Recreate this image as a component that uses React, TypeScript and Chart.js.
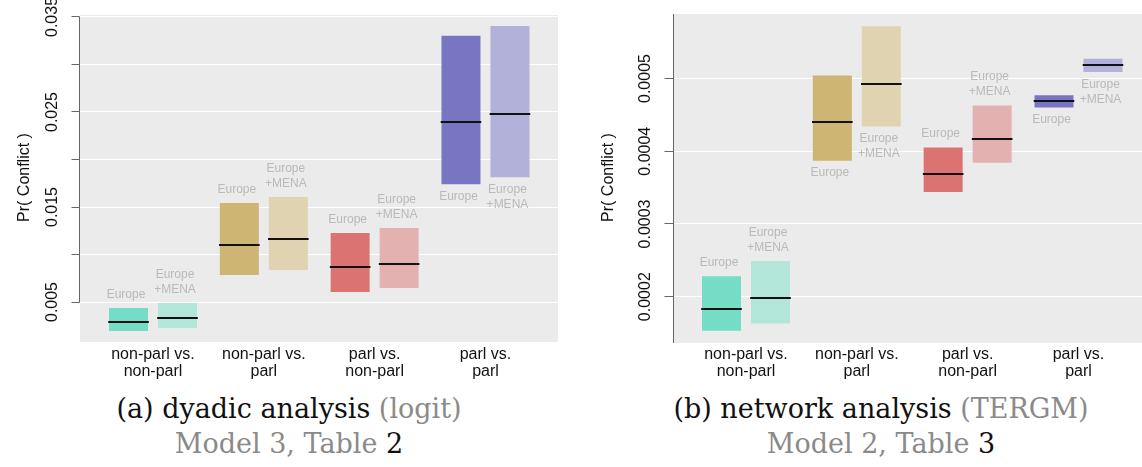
import React, { useEffect, useRef } from "react";
import { Chart, registerables } from "chart.js";

Chart.register(...registerables);

// ---- data ---------------------------------------------------------------

const categories: string[][] = [
  ["non-parl vs.", "non-parl"],
  ["non-parl vs.", "parl"],
  ["parl vs.", "non-parl"],
  ["parl vs.", "parl"],
];

const europeLabel = ["Europe"];
const menaLabel = ["Europe", "+MENA"];

// (a) dyadic analysis, logit: interval bounds and medians
const dyadicEuropeLow = [0.00195, 0.00784, 0.00605, 0.01739];
const dyadicEuropeHigh = [0.00437, 0.01542, 0.01226, 0.03303];
const dyadicEuropeMedian = [0.00293, 0.0110, 0.00865, 0.02398];
const dyadicMenaLow = [0.00226, 0.00837, 0.00647, 0.01813];
const dyadicMenaHigh = [0.00489, 0.01605, 0.01279, 0.03405];
const dyadicMenaMedian = [0.00328, 0.01163, 0.00903, 0.02482];
const dyadicTickLabels = ["0.005", "0.015", "0.025", "0.035"];

// (b) network analysis, TERGM: interval bounds and medians
const networkEuropeLow = [0.000153, 0.000387, 0.000344, 0.00046];
const networkEuropeHigh = [0.000228, 0.000504, 0.000405, 0.000477];
const networkEuropeMedian = [0.000183, 0.00044, 0.000369, 0.000469];
const networkMenaLow = [0.000163, 0.000434, 0.000384, 0.000509];
const networkMenaHigh = [0.000249, 0.000572, 0.000463, 0.000527];
const networkMenaMedian = [0.000198, 0.000493, 0.000417, 0.000518];
const networkTickLabels = ["0.0002", "0.0003", "0.0004", "0.0005"];

// ---- styling ------------------------------------------------------------

const europeColors = ["#75ddc5", "#cfb573", "#dc7373", "#7876c3"];
const menaColors = ["#b2e6d9", "#dfd3b1", "#e4b1b1", "#b1b1d9"];

const SANS = '"Liberation Sans", Arial, Helvetica, sans-serif';
const SERIF = '"DejaVu Serif", serif';
const PANEL_BG = "#ebebeb";
const AXIS_COLOR = "#666";
const GROUP_LABEL_COLOR = "#b9b9b9";
const CAPTION_GREY = "#8a8a8a";

type Side = "above" | "below";

interface PanelSpec {
  left: number;
  width: number;
  height: number;
  yAxisWidth: number;
  padTop: number;
  padRight: number;
  xAxisHeight: number;
  xTickPadding: number;
  yMin: number;
  yMax: number;
  yStep: number;
  xMin: number;
  xMax: number;
  tickLabels: string[];
  tickLen: number;
  tickLabelOffset: number;
  titleOffset: number;
  axisLineFull: boolean;
  sides: Side[];
  europe: { low: number[]; high: number[]; median: number[] };
  mena: { low: number[]; high: number[]; median: number[] };
}

const dyadicPanel: PanelSpec = {
  left: 0,
  width: 570,
  height: 390,
  yAxisWidth: 80,
  padTop: 15,
  padRight: 12,
  xAxisHeight: 48,
  xTickPadding: 4,
  yMin: 0.00079,
  yMax: 0.03521,
  yStep: 0.005,
  xMin: -0.6587,
  xMax: 3.6545,
  tickLabels: dyadicTickLabels,
  tickLen: 8,
  tickLabelOffset: 27,
  titleOffset: 55,
  axisLineFull: false,
  sides: ["above", "above", "above", "below"],
  europe: { low: dyadicEuropeLow, high: dyadicEuropeHigh, median: dyadicEuropeMedian },
  mena: { low: dyadicMenaLow, high: dyadicMenaHigh, median: dyadicMenaMedian },
};

const networkPanel: PanelSpec = {
  left: 580,
  width: 562,
  height: 390,
  yAxisWidth: 94,
  padTop: 14,
  padRight: 0,
  xAxisHeight: 47,
  xTickPadding: 3,
  yMin: 0.0001363,
  yMax: 0.0005887,
  yStep: 0.0001,
  xMin: -0.6496,
  xMax: 3.573,
  tickLabels: networkTickLabels,
  tickLen: 9,
  tickLabelOffset: 28,
  titleOffset: 65,
  axisLineFull: true,
  sides: ["above", "below", "above", "below"],
  europe: { low: networkEuropeLow, high: networkEuropeHigh, median: networkEuropeMedian },
  mena: { low: networkMenaLow, high: networkMenaHigh, median: networkMenaMedian },
};

// ---- plugin: panel background, medians, R-style axis and group labels ---

const crisp = (v: number) => Math.round(v - 0.5) + 0.5;

const panelDecor = {
  id: "panelDecor",
  beforeDraw(chart: any) {
    const { ctx, chartArea: a } = chart;
    ctx.save();
    ctx.fillStyle = PANEL_BG;
    ctx.fillRect(a.left, a.top, a.right - a.left, a.bottom - a.top);
    ctx.restore();
  },
  afterDatasetsDraw(chart: any) {
    const { ctx } = chart;
    const yScale = chart.scales.y;
    ctx.save();
    ctx.strokeStyle = "#111";
    ctx.lineWidth = 2;
    chart.data.datasets.forEach((ds: any, di: number) => {
      const meta = chart.getDatasetMeta(di);
      meta.data.forEach((bar: any, i: number) => {
        const { x, width } = bar.getProps(["x", "width"], true);
        const py = Math.round(yScale.getPixelForValue(ds.medians[i]));
        ctx.beginPath();
        ctx.moveTo(x - width / 2 - 0.8, py);
        ctx.lineTo(x + width / 2 + 0.8, py);
        ctx.stroke();
      });
    });
    ctx.restore();
  },
  afterDraw(chart: any, _args: any, opts: any) {
    const { ctx, chartArea: a } = chart;
    const yScale = chart.scales.y;
    const axisX = a.left - 0.5;
    ctx.save();

    // axis line and tick marks
    const tickPixels = yScale.ticks.map((t: any) => crisp(yScale.getPixelForValue(t.value)));
    ctx.strokeStyle = AXIS_COLOR;
    ctx.lineWidth = 1;
    ctx.beginPath();
    if (opts.axisLineFull) {
      ctx.moveTo(axisX, a.top);
      ctx.lineTo(axisX, a.bottom);
    } else {
      ctx.moveTo(axisX, Math.min(...tickPixels));
      ctx.lineTo(axisX, Math.max(...tickPixels));
    }
    for (const py of tickPixels) {
      ctx.moveTo(axisX - opts.tickLen, py);
      ctx.lineTo(axisX, py);
    }
    ctx.stroke();

    // rotated tick labels and axis title
    ctx.fillStyle = "#111";
    ctx.textAlign = "center";
    ctx.textBaseline = "middle";
    ctx.font = `16px ${SANS}`;
    for (const lab of opts.tickLabels as string[]) {
      const py = yScale.getPixelForValue(Number(lab));
      ctx.save();
      ctx.translate(a.left - opts.tickLabelOffset, py);
      ctx.rotate(-Math.PI / 2);
      ctx.fillText(lab, 0, 0);
      ctx.restore();
    }
    ctx.save();
    ctx.translate(a.left - opts.titleOffset, (a.top + a.bottom) / 2 - 1);
    ctx.rotate(-Math.PI / 2);
    ctx.fillText("Pr( Conflict )", 0, 0);
    ctx.restore();

    // group labels next to each interval
    ctx.fillStyle = GROUP_LABEL_COLOR;
    ctx.font = `12px ${SANS}`;
    const lineGap = 15;
    chart.data.datasets.forEach((ds: any, di: number) => {
      const meta = chart.getDatasetMeta(di);
      meta.data.forEach((bar: any, i: number) => {
        const { x } = bar.getProps(["x"], true);
        const [lo, hi] = ds.data[i].y;
        const lines: string[] = ds.groupLabel;
        const tx = x - 2.5;
        if (ds.labelSides[i] === "above") {
          const top = yScale.getPixelForValue(hi);
          lines.forEach((ln, k) => {
            ctx.fillText(ln, tx, top - 13.5 - (lines.length - 1 - k) * lineGap);
          });
        } else {
          const bottom = yScale.getPixelForValue(lo);
          lines.forEach((ln, k) => {
            ctx.fillText(ln, tx, bottom + 12.5 + k * lineGap);
          });
        }
      });
    });
    ctx.restore();
  },
};

// ---- chart component ----------------------------------------------------

function IntervalPanel({ spec }: { spec: PanelSpec }) {
  const ref = useRef<HTMLCanvasElement | null>(null);

  useEffect(() => {
    if (!ref.current) return;
    const makeSet = (
      label: string,
      s: { low: number[]; high: number[]; median: number[] },
      colors: string[],
      groupLabel: string[]
    ) => ({
      label,
      data: categories.map((_, i) => ({ x: i, y: [s.low[i], s.high[i]] })),
      backgroundColor: colors,
      borderWidth: 0,
      categoryPercentage: 0.884,
      barPercentage: 0.796,
      medians: s.median,
      groupLabel,
      labelSides: spec.sides,
    });

    const chart = new Chart(ref.current, {
      type: "bar",
      data: {
        datasets: [
          makeSet("Europe", spec.europe, europeColors, europeLabel),
          makeSet("Europe +MENA", spec.mena, menaColors, menaLabel),
        ] as any,
      },
      options: {
        animation: false,
        responsive: false,
        events: [],
        layout: { padding: { left: 0, right: spec.padRight, top: spec.padTop, bottom: 0 } },
        plugins: {
          legend: { display: false },
          tooltip: { enabled: false },
          panelDecor: {
            tickLabels: spec.tickLabels,
            tickLen: spec.tickLen,
            tickLabelOffset: spec.tickLabelOffset,
            titleOffset: spec.titleOffset,
            axisLineFull: spec.axisLineFull,
          },
        } as any,
        scales: {
          x: {
            type: "linear",
            offset: false,
            min: spec.xMin,
            max: spec.xMax,
            grid: { display: false, drawTicks: false, offset: false },
            border: { display: false },
            afterBuildTicks: (scale: any) => {
              scale.ticks = categories.map((_, i) => ({ value: i }));
            },
            afterFit: (scale: any) => {
              scale.height = spec.xAxisHeight;
            },
            ticks: {
              autoSkip: false,
              maxRotation: 0,
              minRotation: 0,
              padding: spec.xTickPadding,
              color: "#111",
              font: { family: SANS, size: 16, lineHeight: 17 / 16 },
              callback: (value: any) => categories[Math.round(Number(value))] ?? "",
            },
          },
          y: {
            type: "linear",
            min: spec.yMin,
            max: spec.yMax,
            grid: { color: "#ffffff", lineWidth: 1, drawTicks: false },
            border: { display: false },
            afterFit: (scale: any) => {
              scale.width = spec.yAxisWidth;
            },
            ticks: { stepSize: spec.yStep, includeBounds: false, display: false },
          },
        },
      } as any,
      plugins: [panelDecor],
    });
    return () => chart.destroy();
  }, [spec]);

  return (
    <canvas
      ref={ref}
      width={spec.width}
      height={spec.height}
      style={{
        position: "absolute",
        left: spec.left,
        top: 0,
        width: spec.width,
        height: spec.height,
      }}
    />
  );
}

function Caption({
  cx,
  head,
  method,
  model,
  table,
}: {
  cx: number;
  head: string;
  method: string;
  model: string;
  table: string;
}) {
  return (
    <div
      style={{
        position: "absolute",
        left: cx,
        top: 391,
        transform: "translateX(-50%)",
        whiteSpace: "nowrap",
        textAlign: "center",
        fontFamily: SERIF,
        fontSize: 27,
        lineHeight: "35px",
        color: "#111",
      }}
    >
      <div>
        {head} <span style={{ color: CAPTION_GREY }}>{method}</span>
      </div>
      <div>
        <span style={{ color: CAPTION_GREY }}>{model}</span> {table}
      </div>
    </div>
  );
}

export default function App() {
  return (
    <div
      style={{
        position: "fixed",
        left: 0,
        top: 0,
        width: 1142,
        height: 467,
        overflow: "hidden",
        background: "#ffffff",
      }}
    >
      <IntervalPanel spec={dyadicPanel} />
      <IntervalPanel spec={networkPanel} />
      <Caption cx={289} head="(a) dyadic analysis" method="(logit)" model="Model 3, Table" table="2" />
      <Caption cx={881} head="(b) network analysis" method="(TERGM)" model="Model 2, Table" table="3" />
    </div>
  );
}
